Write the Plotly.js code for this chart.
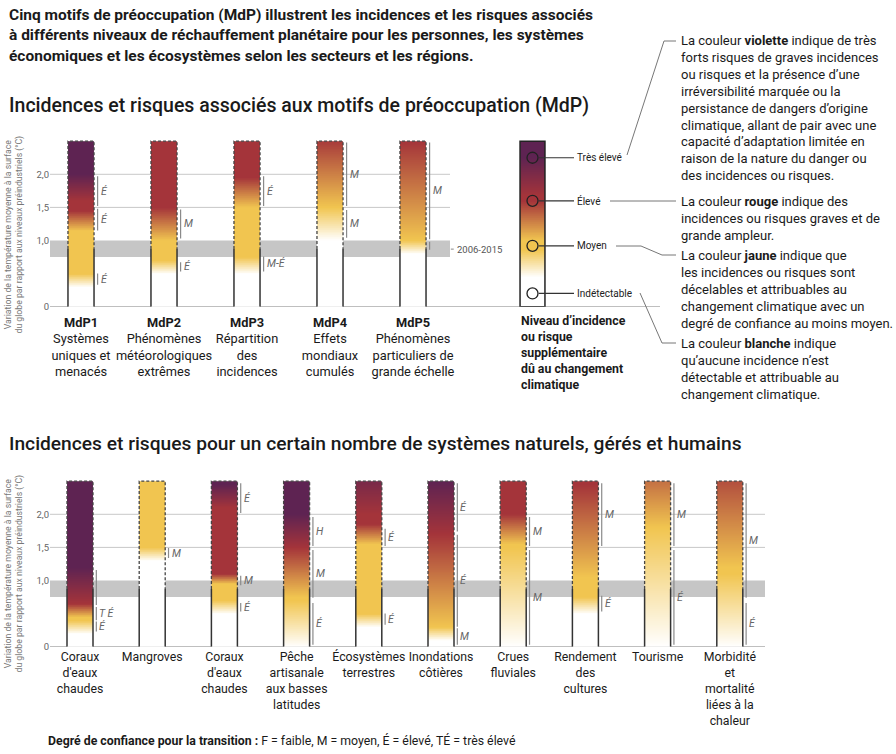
<!DOCTYPE html>
<html><head><meta charset="utf-8">
<script src="https://cdn.plot.ly/plotly-3.0.1.min.js"></script>
<style>html,body{margin:0;padding:0;background:#fff}#chart{width:896px;height:754px}</style>
</head><body><div id="chart"></div>
<script>
// ---------------- DATA ----------------
const mdpCodes = ['MdP1','MdP2','MdP3','MdP4','MdP5'];
const mdpNames = ['Systèmes<br>uniques et<br>menacés','Phénomènes<br>météorologiques<br>extrêmes','Répartition<br>des<br>incidences','Effets<br>mondiaux<br>cumulés','Phénomènes<br>particuliers de<br>grande échelle'];
// colour transitions (°C): indétectable→moyen, moyen→élevé, élevé→très élevé
const mdpT01 = [[0.3,0.5],[0.5,0.7],[0.5,0.75],[1.0,1.5],[0.8,1.0]];
const mdpT12 = [[1.15,1.45],[1.0,1.5],[1.5,1.95],[1.5,2.55],[1.0,2.5]];
const mdpT23 = [[1.6,2.0],null,null,null,null];
// confidence bars [from, to, level]
const mdpConf = [
  [[0.33,0.50,'É'],[1.15,1.48,'É'],[1.52,1.97,'É']],
  [[0.53,0.67,'É'],[1.03,1.47,'M']],
  [[0.53,0.76,'M-É'],[1.52,1.97,'É']],
  [[1.04,1.46,'M'],[1.52,2.48,'M']],
  [[0.86,0.98,''],[1.02,2.48,'M']]
];

const sysNames = ["Coraux<br>d'eaux<br>chaudes","Mangroves","Coraux<br>d'eaux<br>chaudes","Pêche<br>artisanale<br>aux basses<br>latitudes","Écosystèmes<br>terrestres","Inondations<br>côtières","Crues<br>fluviales","Rendement<br>des<br>cultures","Tourisme","Morbidité<br>et<br>mortalité<br>liées à la<br>chaleur"];
const sysT01 = [[0.2,0.4],[1.3,1.5],[0.5,0.7],[0.0,0.7],[0.3,0.5],[0.1,0.3],[0.0,1.5],[0.5,0.75],[0.0,1.8],[0.0,1.1]];
const sysT12 = [[0.45,0.65],null,[0.95,1.1],[0.75,1.5],[1.55,1.85],[0.3,1.7],[1.55,2.0],[1.05,2.45],[1.8,3.0],[1.2,2.8]];
const sysT23 = [[0.65,1.2],null,[2.1,2.45],[1.5,2.0],[2.0,2.8],[1.7,2.5],null,null,null,null];
const sysConf = [
  [[0.23,0.38,'É'],[0.40,0.60,'T É'],[0.63,1.16,'']],
  [[1.34,1.49,'M']],
  [[0.53,0.66,'É'],[0.93,1.07,'M'],[2.02,2.47,'É']],
  [[0.03,0.66,'É'],[0.74,1.46,'M'],[1.52,1.96,'H']],
  [[0.33,0.50,'É'],[1.52,1.78,'É']],
  [[0.03,0.28,'M'],[0.30,1.69,'É'],[1.74,2.47,'É']],
  [[0.03,1.46,'M'],[1.52,1.96,'M']],
  [[0.53,0.77,'É'],[1.52,2.47,'M']],
  [[0.03,1.46,'É'],[1.52,2.47,'M']],
  [[0.03,0.66,'É'],[0.74,2.47,'M']]
];

const legendT = [[0.45,0.86],[1.0,1.6],[1.68,2.25]];
const legendLabels = ['Très élevé','Élevé','Moyen','Indétectable'];
const legendY = [2.25,1.6,0.92,0.2];

const yTickVals = [0,1,1.5,2];
const yTickText = ['0','1,0','1,5','2,0'];
const gridVals = [1.5,2.0];
const band2006 = [0.75,1.0];
const obsLevel = 0.87;
const emberTop = 2.5;

const paragraphs = [
  'La couleur <b>violette</b> indique de très<br>forts risques de graves incidences<br>ou risques et la présence d’une<br>irréversibilité marquée ou la<br>persistance de dangers d’origine<br>climatique, allant de pair avec une<br>capacité d’adaptation limitée en<br>raison de la nature du danger ou<br>des incidences ou risques.',
  'La couleur <b>rouge</b> indique des<br>incidences ou risques graves et de<br>grande ampleur.',
  'La couleur <b>jaune</b> indique que<br>les incidences ou risques sont<br>décelables et attribuables au<br>changement climatique avec un<br>degré de confiance au moins moyen.',
  'La couleur <b>blanche</b> indique<br>qu’aucune incidence n’est<br>détectable et attribuable au<br>changement climatique.'
];

// ---------------- BUILD ----------------
const W = 896, H = 754;
const FONT = 'Roboto, "Open Sans", sans-serif';
const colorscale = [[0,'#ffffff'],[1/3,'#f1c550'],[2/3,'#a4343a'],[1,'#5e2352']];
const step = 0.01;
const nCells = Math.round(emberTop/step);
const yEdges = Array.from({length:nCells+1},(_,k)=>+(k*step).toFixed(3));
const yCent = Array.from({length:nCells},(_,k)=>(k+0.5)*step);
function levelAt(t, trs){ let s=0; trs.forEach(tr=>{ if(!tr) return; const [lo,hi]=tr; s+=Math.min(1,Math.max(0,(t-lo)/(hi-lo))); }); return s; }

const traces = [];
const shapes = [];
const annotations = [];
const px = x=>x/W, py = y=>1-y/H;

function panel(n, T01, T12, T23, conf, xa, ya, hw, barOff){
  const xr = xa, yr = ya;
  for(let i=0;i<n;i++){
    const trs=[T01[i],T12[i],T23[i]];
    traces.push({type:'heatmap', x:[i-hw,i+hw], y:yEdges, z:yCent.map(t=>[levelAt(t,trs)]),
      colorscale, zmin:0, zmax:3, showscale:false, hoverinfo:'skip', xaxis:xa, yaxis:ya});
    const l=i-hw, r=i+hw;
    shapes.push({type:'path', xref:xr, yref:yr, path:`M ${l},${obsLevel} L ${l},${emberTop} L ${r},${emberTop} L ${r},${obsLevel}`,
      line:{color:'#444',width:1.3,dash:'3px,2px'}, layer:'above'});
    [l,r].forEach(xx=>shapes.push({type:'line', xref:xr, yref:yr, x0:xx,x1:xx,y0:0,y1:obsLevel, line:{color:'#333',width:1.5}, layer:'above'}));
    conf[i].forEach(c=>{
      const bx=i+barOff;
      shapes.push({type:'line', xref:xr, yref:yr, x0:bx,x1:bx,y0:c[0],y1:c[1], line:{color:'#8a8a8a',width:1.2}, layer:'above'});
      if(c[2]) annotations.push({xref:xr, yref:yr, x:bx, y:(c[0]+c[1])/2, xanchor:'left', xshift:1, showarrow:false,
        text:'<i>'+c[2]+'</i>', font:{family:FONT,size:10.5,color:'#666'}});
    });
  }
}
function frame(xr, yr, x0, xGrid, xBase){
  shapes.push({type:'rect', xref:xr, yref:yr, x0:x0, x1:xGrid, y0:band2006[0], y1:band2006[1], fillcolor:'#c6c6c6', line:{width:0}, layer:'below'});
  gridVals.forEach(g=>shapes.push({type:'line', xref:xr, yref:yr, x0:x0, x1:xGrid, y0:g, y1:g, line:{color:'#c8c8c8',width:1}, layer:'below'}));
  shapes.push({type:'line', xref:xr, yref:yr, x0:x0, x1:xBase, y0:0, y1:0, line:{color:'#aaaaaa',width:1.5}, layer:'below'});
}

// panel geometry (top: 83 px per MdP, first at 81 px; bottom: 72.2 px, first at 80 px)
const topR = [(50-81)/83, (896-81)/83];
const botR = [(50-80)/72.2, (896-80)/72.2];
frame('x','y', topR[0], (450-81)/83, (660-81)/83);
frame('x2','y2', botR[0], (765-80)/72.2, (765-80)/72.2);
panel(mdpCodes.length, mdpT01, mdpT12, mdpT23, mdpConf, 'x','y', 0.157, 0.2);
panel(sysNames.length, sysT01, sysT12, sysT23, sysConf, 'x2','y2', 0.18, 0.226);

// 2006-2015 label
const xBandEnd = (450-81)/83;
shapes.push({type:'line', xref:'x', yref:'y', x0:xBandEnd+0.01, x1:xBandEnd+0.045, y0:obsLevel, y1:obsLevel, line:{color:'#888',width:1}});
annotations.push({xref:'x', yref:'y', x:xBandEnd+0.06, y:obsLevel, xanchor:'left', showarrow:false, text:'2006-2015', font:{family:FONT,size:9.5,color:'#555'}});

// legend ember
const lx = (532.5-81)/83, lhw = 0.15;
traces.push({type:'heatmap', x:[lx-lhw,lx+lhw], y:yEdges, z:yCent.map(t=>[levelAt(t,legendT)]), colorscale, zmin:0, zmax:3, showscale:false, hoverinfo:'skip', xaxis:'x', yaxis:'y'});
shapes.push({type:'rect', xref:'x', yref:'y', x0:lx-lhw, x1:lx+lhw, y0:0, y1:emberTop, line:{color:'#222',width:1.5}, layer:'above'});
traces.push({type:'scatter', mode:'markers', x:legendY.map(()=>lx), y:legendY, xaxis:'x', yaxis:'y', hoverinfo:'skip', cliponaxis:false,
  marker:{symbol:'circle', size:11, color:'rgba(255,255,255,0)', line:{color:'#222',width:1.3}}});
legendY.forEach((v,k)=>{
  shapes.push({type:'line', xref:'x', yref:'y', x0:lx+0.075, x1:(574-81)/83, y0:v, y1:v, line:{color:'#333',width:1.2}});
  annotations.push({xref:'x', yref:'y', x:(575-81)/83, y:v, xanchor:'left', showarrow:false, text:legendLabels[k], font:{family:FONT,size:10,color:'#222'}});
});
annotations.push({xref:'paper', yref:'paper', x:px(519), y:py(312), xanchor:'left', yanchor:'top', align:'left', showarrow:false,
  text:'<b>Niveau d’incidence<br>ou risque<br>supplémentaire<br>dû au changement<br>climatique</b>', font:{family:FONT,size:12.3,color:'#1a1a1a'}});

// connector lines to explanatory paragraphs
const conn = [
  [[627,155],[664,41],[676,41]],
  [[610,201],[676,201]],
  [[616,246],[641,246],[662,255],[676,255]],
  [[640,293],[662,343],[676,343]]
];
conn.forEach(pts=>shapes.push({type:'path', xref:'paper', yref:'paper', path:pts.map((p,k)=>(k?'L ':'M ')+px(p[0])+','+py(p[1])).join(' '), line:{color:'#777',width:1}}));
const parY = [41,201,255,343];
paragraphs.forEach((t,k)=>annotations.push({xref:'paper', yref:'paper', x:px(679), y:py(parY[k]-9.5), xanchor:'left', yanchor:'top', align:'left', showarrow:false, text:t, font:{family:FONT,size:13,color:'#1a1a1a'}}));

// titles
const header = ['Cinq motifs de préoccupation (MdP) illustrent les incidences et les risques associés','à différents niveaux de réchauffement planétaire pour les personnes, les systèmes','économiques et les écosystèmes selon les secteurs et les régions.'];
header.forEach((t,k)=>annotations.push({xref:'paper', yref:'paper', x:px(7), y:py(15+20.3*k), xanchor:'left', yanchor:'middle', showarrow:false, text:'<b>'+t+'</b>', font:{family:FONT,size:15.5,color:'#1a1a1a'}}));
annotations.push({xref:'paper', yref:'paper', x:px(7), y:py(105), xanchor:'left', yanchor:'middle', showarrow:false, text:'Incidences et risques associés aux motifs de préoccupation (MdP)', font:{family:FONT,size:19.5,color:'#1a1a1a',weight:500}});
annotations.push({xref:'paper', yref:'paper', x:px(7), y:py(443), xanchor:'left', yanchor:'middle', showarrow:false, text:'Incidences et risques pour un certain nombre de systèmes naturels, gérés et humains', font:{family:FONT,size:19.2,color:'#1a1a1a',weight:500}});
annotations.push({xref:'paper', yref:'paper', x:px(46), y:py(740), xanchor:'left', yanchor:'middle', showarrow:false, text:'<b>Degré de confiance pour la transition :</b> F = faible, M = moyen, É = élevé, TÉ = très élevé', font:{family:FONT,size:12.3,color:'#1a1a1a'}});
const yTitle = 'Variation de la température moyenne à la surface<br>du globe par rapport aux niveaux préindustriels (°C)';
[235,574].forEach(c=>annotations.push({xref:'paper', yref:'paper', x:px(13.5), y:py(c), xanchor:'center', yanchor:'middle', textangle:-90, showarrow:false, text:yTitle, font:{family:FONT,size:8.7,color:'#777'}}));

const xBase = {showgrid:false, zeroline:false, showline:false, ticks:'', tickangle:0, fixedrange:true};
const yBase = {showgrid:false, zeroline:false, showline:false, ticks:'', fixedrange:true, range:[0,2.65], tickvals:yTickVals, ticktext:yTickText, tickfont:{family:FONT,size:9.5,color:'#666'}};
const layout = {
  width:W, height:H, margin:{l:0,r:0,t:0,b:0}, paper_bgcolor:'#fff', plot_bgcolor:'rgba(0,0,0,0)', showlegend:false,
  font:{family:FONT},
  xaxis:Object.assign({}, xBase, {domain:[50/W,1], range:topR, anchor:'y', ticklabelstandoff:6, tickfont:{family:FONT,size:12.8,color:'#1a1a1a'}, tickvals:mdpCodes.map((_,i)=>i), ticktext:mdpCodes.map((c,i)=>'<b>'+c+'</b><br>'+mdpNames[i])}),
  yaxis:Object.assign({}, yBase, {domain:[1-306.7/H, 1-(306.7-2.65*66.2)/H], anchor:'x'}),
  xaxis2:Object.assign({}, xBase, {domain:[50/W,1], range:botR, anchor:'y2', ticklabelstandoff:1, tickfont:{family:FONT,size:12.3,color:'#1a1a1a'}, tickvals:sysNames.map((_,i)=>i), ticktext:sysNames}),
  yaxis2:Object.assign({}, yBase, {domain:[1-646.7/H, 1-(646.7-2.65*66.2)/H], anchor:'x2'}),
  shapes, annotations
};
Plotly.newPlot('chart', traces, layout, {displayModeBar:false, staticPlot:true});
</script></body></html>
